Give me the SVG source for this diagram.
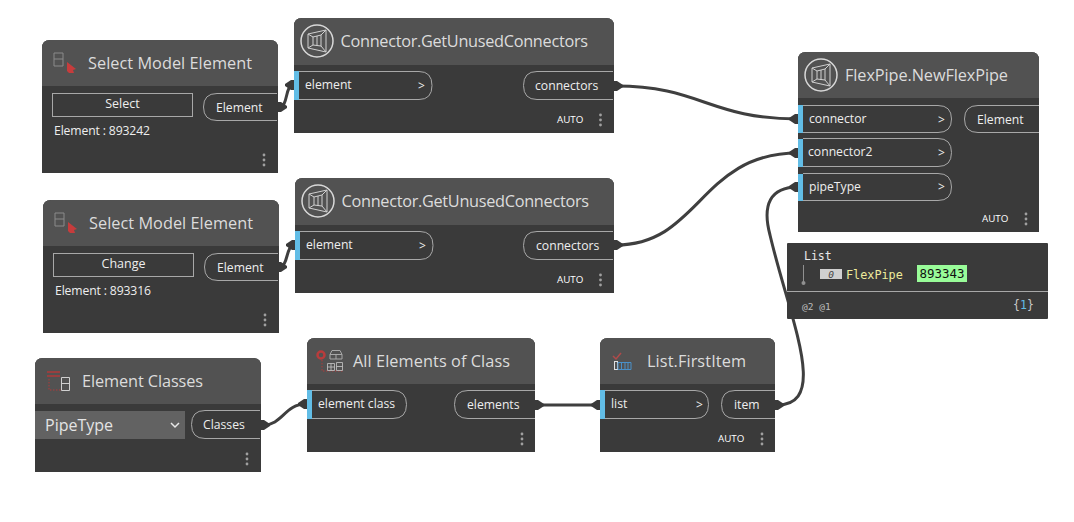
<svg xmlns="http://www.w3.org/2000/svg" width="1074" height="522" viewBox="0 0 1074 522">
<style>
text{font-family:"Open Sans","Noto Sans","Liberation Sans",sans-serif}
.body{fill:#3a3a3a}
.head{fill:#525252}
.title{fill:#dcdcdc;font-size:16.3px}
.port{fill:none;stroke:#a8a8a8;stroke-width:1}
.lbl{fill:#eeeeee;font-size:12.2px}
.bar{fill:#62bde6}
.chev{fill:#eeeeee;font-size:12px}
.auto{fill:#ffffff;font-size:9.800px;font-weight:500}
.dot{fill:#a0a0a0}
.wire{fill:none;stroke:#3f3f3f;stroke-width:3}
.cap{fill:#3a3a3a}
.ring{fill:none;stroke:#d8d8d8;stroke-width:1.5}
.ico{fill:none;stroke:#d0d0d0;stroke-width:1}
.mono{font-family:"DejaVu Sans Mono","Liberation Mono",monospace}
</style>
<defs>
<g id="dots"><circle class="dot" cx="0" cy="-5" r="1.400"/><circle class="dot" cx="0" cy="0" r="1.400"/><circle class="dot" cx="0" cy="5" r="1.400"/></g>
<g id="geo"><circle class="ring" cx="0" cy="0" r="16"/><path class="ico" d="M-9-7 9-11V11L-9 7ZM-4-4 4-6M-4 4 4 5M-4-4V4M0-5V5M4-6V5M-9-7-4-4M9-11 4-6M-9 7-4 4M9 11 4 5"/></g>
<g id="sel"><path d="M-12-10h9v13h-9zM-12-4h9" fill="none" stroke="#8a8a8a"/><path d="M1-1 10 6 7 7 8 10 3 10 1 8Z" fill="#c63c3c"/></g>
<path id="capR" class="cap" d="M0-5h3l6 4v2l-6 4h-3z"/>
<path id="capL" class="cap" d="M0-5h-3l-6 4v2l6 4h3z"/>
</defs>

<g id="connectors">
<path class="wire" d="M279 107C289 107 284 85 294 85"/>
<path class="wire" d="M279 267C289 267 285 245 295 245"/>
<path class="wire" d="M264 425C282 425 285 404 306 404"/>
<path class="wire" d="M616 86C700 86 710 119 798 119"/>
<path class="wire" d="M616 245C700 245 700 153 798 153"/>
<path class="wire" d="M537 405H600"/>
<path class="wire" d="M777 405C830 405 790 320 770 235C762 205 770 187 798 187"/>
<use href="#capR" x="278" y="107"/>
<use href="#capL" x="294" y="85"/>
<use href="#capR" x="278" y="267"/>
<use href="#capL" x="295" y="245"/>
<use href="#capR" x="261" y="425"/>
<use href="#capL" x="307" y="404"/>
<use href="#capR" x="614" y="86"/>
<use href="#capR" x="614" y="245"/>
<use href="#capL" x="798" y="119"/>
<use href="#capL" x="798" y="153"/>
<use href="#capL" x="798" y="187"/>
<use href="#capR" x="535" y="405"/>
<use href="#capL" x="600" y="405"/>
<use href="#capR" x="775" y="405"/>
</g>

<g id="select1">
<path class="body" d="M42 173V48q0-8 8-8H270q8 0 8 8V173Z"/>
<path class="head" d="M42 86V48q0-8 8-8H270q8 0 8 8V86Z"/>
<use href="#sel" transform="translate(66 63)"/>
<text class="title" x="88" y="68.500" textLength="164">Select Model Element</text>
<rect class="port" x="52.500" y="93.500" width="140" height="23"/>
<text class="lbl" x="122.500" y="108" text-anchor="middle" style="font-size:12.500px">Select</text>
<path class="port" d="M277 93.500H217q-13.500 0-13.500 13.500T217 120.500H277"/>
<text class="lbl" x="216" y="112">Element</text>
<text class="lbl" x="54" y="135" textLength="96">Element : 893242</text>
<use href="#dots" transform="translate(264 160)"/>
</g>

<g id="select2">
<path class="body" d="M43 333V208q0-8 8-8H271q8 0 8 8V333Z"/>
<path class="head" d="M43 246V208q0-8 8-8H271q8 0 8 8V246Z"/>
<use href="#sel" transform="translate(67 223)"/>
<text class="title" x="89" y="228.500" textLength="164">Select Model Element</text>
<rect class="port" x="53.500" y="253.500" width="140" height="23"/>
<text class="lbl" x="123.500" y="268" text-anchor="middle" style="font-size:12.500px">Change</text>
<path class="port" d="M278 253.500H218q-13.500 0-13.500 13.500T218 280.500H278"/>
<text class="lbl" x="217" y="272">Element</text>
<text class="lbl" x="55" y="295" textLength="96">Element : 893316</text>
<use href="#dots" transform="translate(265 320)"/>
</g>

<g id="connector1">
<path class="body" d="M294 133V26q0-8 8-8H606q8 0 8 8V133Z"/>
<path class="head" d="M294 65V26q0-8 8-8H606q8 0 8 8V65Z"/>
<use href="#geo" transform="translate(317 41)"/>
<text class="title" x="340.500" y="46.500" textLength="247.500">Connector.GetUnusedConnectors</text>
<path class="port" d="M299 71.500H419q13 0 13 14T419 99.500H299"/>
<rect class="bar" x="294" y="71" width="5" height="29"/>
<text class="lbl" x="305" y="89">element</text>
<text class="chev" x="418" y="90">&gt;</text>
<path class="port" d="M613 71.500H537q-13.500 0-13.500 14T537 99.500H613"/>
<text class="lbl" x="535" y="90">connectors</text>
<text class="auto" x="557" y="123">AUTO</text>
<use href="#dots" transform="translate(600.500 120)"/>
</g>

<g id="connector2">
<path class="body" d="M295 293V186q0-8 8-8H606q8 0 8 8V293Z"/>
<path class="head" d="M295 225V186q0-8 8-8H606q8 0 8 8V225Z"/>
<use href="#geo" transform="translate(318 201)"/>
<text class="title" x="341.500" y="206.500" textLength="247.500">Connector.GetUnusedConnectors</text>
<path class="port" d="M300 231.500H420q13 0 13 14T420 259.500H300"/>
<rect class="bar" x="295" y="231" width="5" height="29"/>
<text class="lbl" x="306" y="249">element</text>
<text class="chev" x="419" y="250">&gt;</text>
<path class="port" d="M613 231.500H537q-13.500 0-13.500 14T537 259.500H613"/>
<text class="lbl" x="536" y="250">connectors</text>
<text class="auto" x="557" y="283">AUTO</text>
<use href="#dots" transform="translate(600.500 280)"/>
</g>

<g id="flexpipe">
<path class="body" d="M798 232V60q0-8 8-8H1031q8 0 8 8V232Z"/>
<path class="head" d="M798 98V60q0-8 8-8H1031q8 0 8 8V98Z"/>
<use href="#geo" transform="translate(821 75)"/>
<text class="title" x="845" y="81" textLength="163">FlexPipe.NewFlexPipe</text>
<path class="port" d="M803 105.500H938q13.500 0 13.500 13.500T938 132.500H803"/>
<rect class="bar" x="798" y="105" width="5" height="28"/>
<text class="lbl" x="809" y="123">connector</text>
<text class="chev" x="938" y="124">&gt;</text>
<path class="port" d="M803 138.500H938q13.500 0 13.500 14T938 166.500H803"/>
<rect class="bar" x="798" y="139" width="5" height="28"/>
<text class="lbl" x="808" y="156">connector2</text>
<text class="chev" x="938" y="157">&gt;</text>
<path class="port" d="M803 173.500H938q13.500 0 13.500 13.500T938 200.500H803"/>
<rect class="bar" x="798" y="174" width="5" height="27"/>
<text class="lbl" x="809" y="191">pipeType</text>
<text class="chev" x="938" y="191">&gt;</text>
<path class="port" d="M1039 105.500H978q-13.500 0-13.500 13.500T978 132.500H1039"/>
<text class="lbl" x="977" y="124">Element</text>
<text class="auto" x="982" y="222">AUTO</text>
<use href="#dots" transform="translate(1026 219)"/>
</g>

<g id="watch">
<rect class="body" x="787" y="243" width="261" height="76" rx="1"/>
<path d="M787 291.500H1048" stroke="#a8a8a8"/>
<text class="mono" x="804" y="260" fill="#e8e8e8" font-size="11.500">List</text>
<path d="M803.500 265V282" stroke="#909090" stroke-width="1"/>
<circle cx="803.500" cy="283" r="2" fill="#909090"/>
<rect x="820" y="269" width="22" height="10" fill="#d0d0d0"/>
<text class="mono" x="831" y="278" fill="#444" font-size="9.500" font-style="italic" text-anchor="middle">0</text>
<text class="mono" x="846" y="279" fill="#eeeb9c" font-size="11.800">FlexPipe</text>
<rect x="917" y="265" width="50" height="17" fill="#99fc99"/>
<text class="mono" x="942" y="278" fill="#111" font-size="12.500" text-anchor="middle">893343</text>
<text class="mono" x="802" y="310" fill="#bdbdbd" font-size="9.500">@2 @1</text>
<text class="mono" x="1013" y="309" fill="#c8c8c8" font-size="11.500">{<tspan fill="#62bde6">1</tspan>}</text>
</g>

<g id="elementClasses">
<path class="body" d="M35 472V366q0-8 8-8H253q8 0 8 8V472Z"/>
<path class="head" d="M35 404V366q0-8 8-8H253q8 0 8 8V404Z"/>
<path d="M47 372H60M47 376H60" fill="none" stroke="#b03a3a" stroke-width="1.500"/>
<path d="M49 379V390H61" fill="none" stroke="#b03a3a" stroke-dasharray="1.500 1.500"/>
<path class="ico" d="M61.500 377.500h8v13h-8zM61.500 383.500h8"/>
<text class="title" x="82" y="387" textLength="121">Element Classes</text>
<rect x="35" y="411" width="150" height="28" fill="#626262"/>
<text x="45" y="431" fill="#e4e4e4" font-size="16">PipeType</text>
<path d="M171 423l4 4 4-4" fill="none" stroke="#e8e8e8" stroke-width="1.500"/>
<path class="port" d="M260 410.500H205q-13.500 0-13.500 14T205 438.500H260"/>
<text class="lbl" x="203" y="429">Classes</text>
<use href="#dots" transform="translate(247 459)"/>
</g>

<g id="allElements">
<path class="body" d="M307 452V346q0-8 8-8H527q8 0 8 8V452Z"/>
<path class="head" d="M307 384V346q0-8 8-8H527q8 0 8 8V384Z"/>
<circle cx="321" cy="355" r="3.500" fill="none" stroke="#b83c3c" stroke-width="2.500"/>
<path d="M330 354.500l2-4h8l2 4v4.500h-12zM330 354.500h12M336 354.500v4.500" fill="none" stroke="#a8a8a8"/>
<path d="M322 360v11h21" fill="none" stroke="#b03a3a" stroke-dasharray="1.500 1.500"/>
<path d="M327.500 363.500h7v7h-7zM331 363.500v7M327.500 367h7M336.500 362.500h6v8h-6zM336.500 366.500h6" fill="none" stroke="#c8c8c8" stroke-width=".8"/>
<text class="title" x="353" y="367" textLength="157">All Elements of Class</text>
<path class="port" d="M312 390.500H393q13.500 0 13.500 14T393 418.500H312"/>
<rect class="bar" x="307" y="390" width="5" height="29"/>
<text class="lbl" x="318" y="408">element class</text>
<path class="port" d="M535 390.500H468q-13.500 0-13.500 14T468 418.500H535"/>
<text class="lbl" x="467" y="409">elements</text>
<use href="#dots" transform="translate(522 439)"/>
</g>

<g id="firstItem">
<path class="body" d="M600 452V346q0-8 8-8H767q8 0 8 8V452Z"/>
<path class="head" d="M600 384V346q0-8 8-8H767q8 0 8 8V384Z"/>
<path d="M613 356l3 3 5-6" fill="none" stroke="#b04a4a" stroke-width="1.500"/>
<rect x="614.500" y="361.500" width="3" height="8" fill="none" stroke="#e0e0e0"/>
<path d="M618 362.500h13v7h-13zM621.500 362.500v7M625 362.500v7M628 362.500v7" fill="none" stroke="#4a90c8"/>
<text class="title" x="647" y="367" textLength="99">List.FirstItem</text>
<path class="port" d="M605 390.500H695q13.500 0 13.500 14T695 418.500H605"/>
<rect class="bar" x="600" y="390" width="5" height="29"/>
<text class="lbl" x="611" y="408">list</text>
<text class="chev" x="696" y="409">&gt;</text>
<path class="port" d="M775 390.500H735q-13.500 0-13.500 14T735 418.500H775"/>
<text class="lbl" x="734" y="409">item</text>
<text class="auto" x="718" y="442">AUTO</text>
<use href="#dots" transform="translate(762 439)"/>
</g>
</svg>
